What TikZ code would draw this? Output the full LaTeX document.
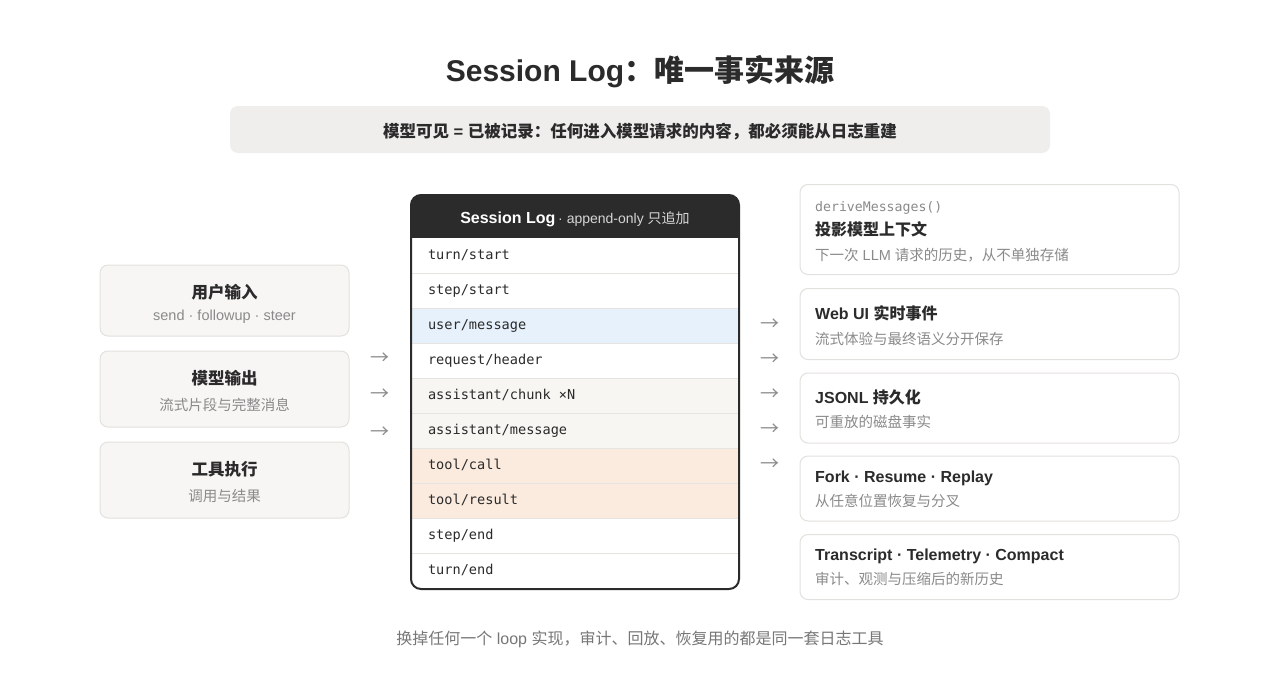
\documentclass[tikz,border=0pt]{standalone}
\usepackage{fontspec}
\setmainfont{Liberation Sans}
\setmonofont{DejaVu Sans Mono}
\newfontfamily\zh{Noto Sans CJK SC}
\definecolor{ink}{HTML}{2B2B2B}
\definecolor{mute}{HTML}{8A8A8A}
\definecolor{capc}{HTML}{777777}
\definecolor{bannerc}{HTML}{EFEEEC}
\definecolor{cardc}{HTML}{F7F6F4}
\definecolor{cardline}{HTML}{E3E1DE}
\definecolor{sepc}{HTML}{E6E4E1}
\definecolor{userc}{HTML}{E6F1FB}
\definecolor{warmc}{HTML}{F7F6F3}
\definecolor{peachc}{HTML}{FBEBDE}
\definecolor{arrowc}{HTML}{8C8C8C}
\definecolor{hdrc}{HTML}{2B2B2B}
\definecolor{hdrtxt}{HTML}{D6D6D6}
\tikzset{
  lbl/.style={anchor=base, inner sep=0pt, text=ink},
  lbll/.style={anchor=base west, inner sep=0pt, text=ink},
  cardbox/.style={draw=cardline, fill=cardc, rounded corners=8pt, line width=1pt, inner sep=0pt},
  rcardbox/.style={draw=cardline, fill=white, rounded corners=8pt, line width=1pt, inner sep=0pt},
  ttl/.style={font=\fontsize{16.5}{20}\selectfont\bfseries},
  sub/.style={font=\fontsize{14.5}{18}\selectfont, text=mute},
  rttl/.style={font=\fontsize{16}{20}\selectfont\bfseries},
  arr/.style={anchor=base, inner sep=0pt, text=arrowc, font=\fontsize{19}{22}\selectfont\zh},
  logrow/.style={minimum width=328pt, minimum height=35pt, inner xsep=17pt, inner ysep=0pt,
    text width=294pt, align=left, text height=10.5pt, text depth=3pt,
    font=\fontsize{13.6}{16}\ttfamily, text=ink},
}
\begin{document}
\begin{tikzpicture}[x=1pt,y=-1pt]
\useasboundingbox (0,0) rectangle (1280,688);
\fill[white] (0,0) rectangle (1280,688);

% title and banner
\node[lbl, font=\fontsize{30}{36}\selectfont\bfseries] (title) at (640,81) {Session Log{\zh：唯一事实来源}};
\node[fill=bannerc, rounded corners=8pt, minimum width=820pt, minimum height=47pt, inner sep=0pt] (banner) at (640,129.5) {};
\node[lbl, font=\fontsize{16.5}{20}\selectfont\bfseries] (bannertxt) at (640,137) {{\zh 模型可见} = {\zh 已被记录：任何进入模型请求的内容，都必须能从日志重建}};

% left cards
\node[cardbox, minimum width=249pt, minimum height=71pt] (in1) at (224.5,300.5) {};
\node[lbl, ttl] (in1t) at (224.5,298) {\zh 用户输入};
\node[lbl, sub] (in1s) at (224.5,320) {send · followup · steer};

\node[cardbox, minimum width=249pt, minimum height=76pt] (in2) at (224.5,389) {};
\node[lbl, ttl] (in2t) at (224.5,384.5) {\zh 模型输出};
\node[lbl, sub] (in2s) at (224.5,410) {\zh 流式片段与完整消息};

\node[cardbox, minimum width=249pt, minimum height=76pt] (in3) at (224.5,480) {};
\node[lbl, ttl] (in3t) at (224.5,475) {\zh 工具执行};
\node[lbl, sub] (in3s) at (224.5,501.5) {\zh 调用与结果};

% left arrows
\node[arr] (la1) at (379.5,364) {→};
\node[arr] (la2) at (379.5,400.5) {→};
\node[arr] (la3) at (379.5,438) {→};

% session log
\begin{scope}
\clip[rounded corners=10pt] (411,195) rectangle (739,589);
\fill[white] (411,195) rectangle (739,589);
\fill[hdrc] (411,195) rectangle (739,238);
\node[logrow] (r1) at (575,255.5) {turn/start};
\node[logrow] (r2) at (575,290.5) {step/start};
\node[logrow, fill=userc] (r3) at (575,325.5) {user/message};
\node[logrow] (r4) at (575,360.5) {request/header};
\node[logrow, fill=warmc] (r5) at (575,395.5) {assistant/chunk\hspace{0.602em}×N};
\node[logrow, fill=warmc] (r6) at (575,430.5) {assistant/message};
\node[logrow, fill=peachc] (r7) at (575,465.5) {tool/call};
\node[logrow, fill=peachc] (r8) at (575,500.5) {tool/result};
\node[logrow] (r9) at (575,535.5) {step/end};
\node[logrow] (r10) at (575,570.5) {turn/end};
\foreach \i in {1,...,9} {\draw[sepc, line width=1pt] (r\i.south west) -- (r\i.south east);}
\end{scope}
\draw[hdrc, line width=2pt, rounded corners=10pt] (411,195) rectangle (739,589);
\node[lbl, text=white] (hdr) at (575,223.3) {{\fontsize{16}{20}\selectfont\bfseries Session Log}\hspace{0.28em}{\fontsize{14}{18}\selectfont\color{hdrtxt}·\hspace{0.28em}append-only {\zh 只追加}}};

% right arrows
\node[arr] (ra1) at (769.5,330) {→};
\node[arr] (ra2) at (769.5,365) {→};
\node[arr] (ra3) at (769.5,400) {→};
\node[arr] (ra4) at (769.5,435) {→};
\node[arr] (ra5) at (769.5,470) {→};

% right cards
\node[rcardbox, minimum width=379pt, minimum height=90pt] (o1) at (989.5,229.5) {};
\node[lbll, text=mute, font=\fontsize{13.2}{16}\ttfamily] (o1c) at (815,211) {deriveMessages()};
\node[lbll, rttl] (o1t) at (815,235) {\zh 投影模型上下文};
\node[lbll, sub] (o1s) at (815,260.5) {{\zh 下一次} LLM {\zh 请求的历史，从不单独存储}};

\node[rcardbox, minimum width=379pt, minimum height=71pt] (o2) at (989.5,324) {};
\node[lbll, rttl] (o2t) at (815,319) {Web UI {\zh 实时事件}};
\node[lbll, sub] (o2s) at (815,344) {\zh 流式体验与最终语义分开保存};

\node[rcardbox, minimum width=379pt, minimum height=70pt] (o3) at (989.5,408) {};
\node[lbll, rttl] (o3t) at (815,403) {JSONL {\zh 持久化}};
\node[lbll, sub] (o3s) at (815,427.5) {\zh 可重放的磁盘事实};

\node[rcardbox, minimum width=379pt, minimum height=65pt] (o4) at (989.5,488.5) {};
\node[lbll, rttl] (o4t) at (815,482) {Fork · Resume · Replay};
\node[lbll, sub] (o4s) at (815,506) {\zh 从任意位置恢复与分叉};

\node[rcardbox, minimum width=379pt, minimum height=65pt] (o5) at (989.5,567) {};
\node[lbll, rttl] (o5t) at (815,560) {Transcript · Telemetry · Compact};
\node[lbll, sub] (o5s) at (815,584) {\zh 审计、观测与压缩后的新历史};

% caption
\node[lbl, text=capc, font=\fontsize{16}{20}\selectfont] (caption) at (640,644) {{\zh 换掉任何一个} loop {\zh 实现，审计、回放、恢复用的都是同一套日志工具}};
\end{tikzpicture}
\end{document}
